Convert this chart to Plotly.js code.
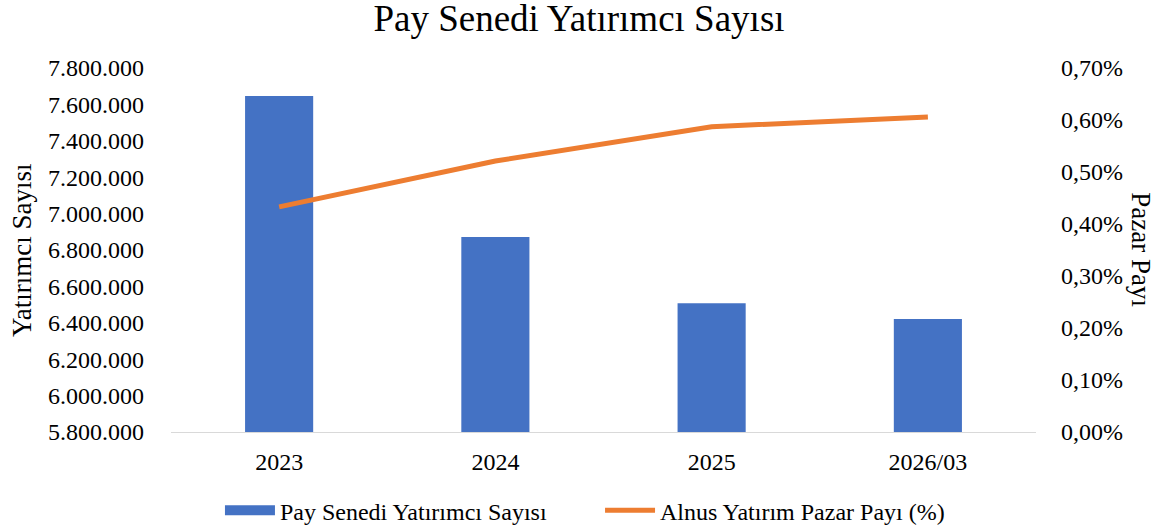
<!DOCTYPE html>
<html>
<head>
<meta charset="utf-8">
<script src="https://cdn.plot.ly/plotly-3.0.1.min.js"></script>
<style>html,body{margin:0;padding:0;background:#fff;}#chart{width:1158px;height:530px;}</style>
</head>
<body>
<div id="chart"></div>
<script>
const categories = ["2023", "2024", "2025", "2026/03"];
const investorCounts = [7646000, 6871000, 6507000, 6421000];
const marketShare = [0.00433, 0.00521, 0.00587, 0.00606];
const leftTicks = [5800000, 6000000, 6200000, 6400000, 6600000, 6800000, 7000000, 7200000, 7400000, 7600000, 7800000];
const leftTickText = ["5.800.000","6.000.000","6.200.000","6.400.000","6.600.000","6.800.000","7.000.000","7.200.000","7.400.000","7.600.000","7.800.000"];
const rightTicks = [0, 0.001, 0.002, 0.003, 0.004, 0.005, 0.006, 0.007];
const rightTickText = ["0,00%","0,10%","0,20%","0,30%","0,40%","0,50%","0,60%","0,70%"];

const font = "Liberation Serif";

const traces = [
  {
    type: "bar",
    name: "Pay Senedi Yatırımcı Sayısı",
    x: categories,
    y: investorCounts,
    marker: {color: "#4472C4"},
    width: 0.315,
    yaxis: "y",
    showlegend: false
  },
  {
    type: "scatter",
    mode: "lines",
    name: "Pay Senedi Yatırımcı Sayısı",
    x: [null],
    y: [null],
    line: {color: "#4472C4", width: 12},
    yaxis: "y",
    legend: "legend",
    showlegend: true
  },
  {
    type: "scatter",
    mode: "lines",
    name: "Alnus Yatırım Pazar Payı (%)",
    x: categories,
    y: marketShare,
    line: {color: "#ED7D31", width: 5},
    yaxis: "y2",
    legend: "legend2"
  }
];

const legendFont = {family: font, size: 24, color: "#000"};

const layout = {
  width: 1158,
  height: 530,
  margin: {l: 171, r: 122, t: 68, b: 98, autoexpand: false},
  paper_bgcolor: "#fff",
  plot_bgcolor: "#fff",
  font: {family: font, size: 24, color: "#000"},
  title: {text: "Pay Senedi Yatırımcı Sayısı", font: {family: font, size: 37, color: "#000"}, x: 0.5, xanchor: "center", y: 0.966, yanchor: "middle"},
  showlegend: true,
  legend: {orientation: "h", x: 0.0566, xanchor: "left", y: -0.154, yanchor: "top", font: legendFont, itemwidth: 50},
  legend2: {orientation: "h", x: 0.496, xanchor: "left", y: -0.154, yanchor: "top", font: legendFont, itemwidth: 50},
  xaxis: {
    type: "category",
    showline: true, linecolor: "#d9d9d9", linewidth: 1,
    ticks: "", showgrid: false,
    ticklabelstandoff: 8,
    tickfont: {family: font, size: 24, color: "#000"}
  },
  yaxis: {
    range: [5800000, 7800000],
    tickvals: leftTicks, ticktext: leftTickText,
    showgrid: false, zeroline: false, showline: false,
    ticks: "", tickfont: {family: font, size: 24, color: "#000"},
    ticklabelstandoff: 26,
    automargin: false
  },
  yaxis2: {
    range: [0, 0.007],
    overlaying: "y", side: "right",
    tickvals: rightTicks, ticktext: rightTickText,
    showgrid: false, zeroline: false, showline: false,
    automargin: false,
    ticklabelstandoff: 24,
    ticks: "", tickfont: {family: font, size: 24, color: "#000"}
  },
  annotations: [
    {text: "Yatırımcı Sayısı", xref: "paper", yref: "paper", x: -0.1723, y: 0.5, textangle: -90, showarrow: false, font: {family: font, size: 27, color: "#000"}, xanchor: "center", yanchor: "middle"},
    {text: "Pazar Payı", xref: "paper", yref: "paper", x: 1.121, y: 0.5, textangle: 90, showarrow: false, font: {family: font, size: 27, color: "#000"}, xanchor: "center", yanchor: "middle"}
  ]
};

Plotly.newPlot("chart", traces, layout, {displayModeBar: false, staticPlot: true});
</script>
</body>
</html>
